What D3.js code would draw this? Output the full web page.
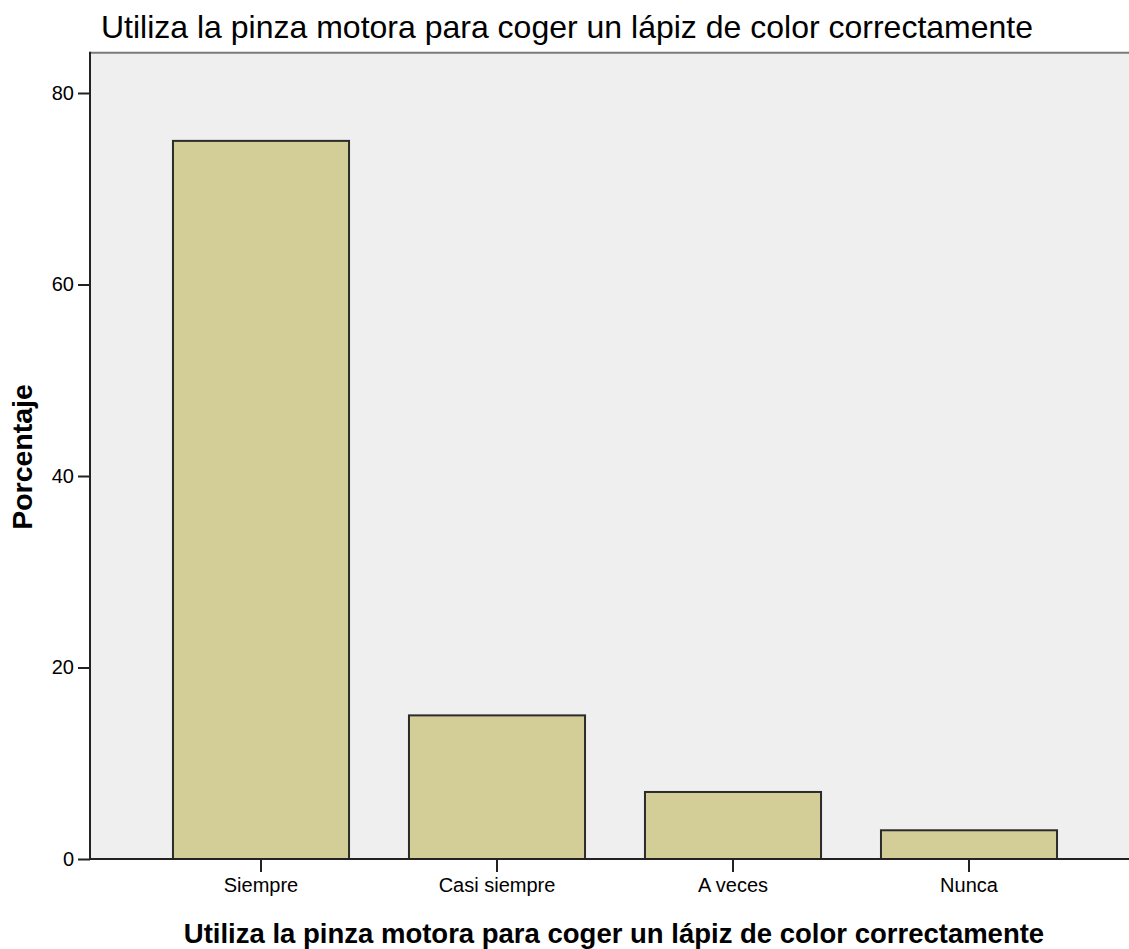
<!DOCTYPE html>
<html>
<head>
<meta charset="utf-8">
<script src="https://cdn.jsdelivr.net/npm/d3@7"></script>
<style>
  html, body { margin: 0; padding: 0; background: #ffffff; }
  svg { display: block; }
  text { font-family: "Liberation Sans", Arial, sans-serif; fill: #000; }
</style>
</head>
<body>
<svg id="chart" width="1129" height="949"></svg>
<script>
// ---- data ----
const categories = ["Siempre", "Casi siempre", "A veces", "Nunca"];
const percentages = [75, 15, 7, 3];
const yTickValues = [0, 20, 40, 60, 80];
const chartTitle = "Utiliza la pinza motora para coger un lápiz de color correctamente";
const xAxisTitle = "Utiliza la pinza motora para coger un lápiz de color correctamente";
const yAxisTitle = "Porcentaje";

// ---- layout ----
const svg = d3.select("#chart");
const plotLeft = 90, plotRight = 1140, plotBottom = 859;
const yDomainMax = 84.2;

const y = d3.scaleLinear().domain([0, 80]).range([plotBottom, 93]);
const plotTop = y(yDomainMax);

const x = d3.scaleBand()
  .domain(categories)
  .range([143, 1087])
  .paddingInner(0.254)
  .paddingOuter(0.127);

// plot background
svg.append("rect")
  .attr("x", plotLeft).attr("y", plotTop)
  .attr("width", plotRight - plotLeft).attr("height", plotBottom - plotTop)
  .attr("fill", "#efefef");

// top frame line
svg.append("line")
  .attr("x1", plotLeft).attr("x2", plotRight)
  .attr("y1", plotTop).attr("y2", plotTop)
  .attr("stroke", "#7a7a7a").attr("stroke-width", 2);

// bars
svg.append("g").selectAll("rect")
  .data(categories.map((c, i) => ({ c, v: percentages[i] })))
  .join("rect")
  .attr("x", d => x(d.c))
  .attr("y", d => y(d.v))
  .attr("width", x.bandwidth())
  .attr("height", d => y(0) - y(d.v))
  .attr("fill", "#d3ce97")
  .attr("stroke", "#2b2b2b")
  .attr("stroke-width", 2);

// y axis
const yAxis = d3.axisLeft(y).tickValues(yTickValues).tickSize(12).tickPadding(4).tickFormat(d3.format("d"));
const gy = svg.append("g").attr("transform", `translate(${plotLeft},0)`).call(yAxis);
gy.select(".domain").remove();
gy.selectAll(".tick line").attr("stroke", "#222").attr("stroke-width", 2);
gy.selectAll(".tick text").attr("font-size", 20).attr("fill", "#111")
  .attr("font-family", "'Liberation Sans', Arial, sans-serif");
svg.append("line")
  .attr("x1", plotLeft).attr("x2", plotLeft)
  .attr("y1", plotTop - 1).attr("y2", plotBottom + 1)
  .attr("stroke", "#222").attr("stroke-width", 2);

// x axis
const xAxis = d3.axisBottom(x).tickSize(13).tickPadding(6);
const gx = svg.append("g").attr("transform", `translate(0,${plotBottom})`).call(xAxis);
gx.select(".domain").remove();
gx.selectAll(".tick line").attr("stroke", "#222").attr("stroke-width", 2);
gx.selectAll(".tick text").attr("font-size", 20).attr("fill", "#111")
  .attr("font-family", "'Liberation Sans', Arial, sans-serif");
svg.append("line")
  .attr("x1", plotLeft - 1).attr("x2", plotRight)
  .attr("y1", plotBottom).attr("y2", plotBottom)
  .attr("stroke", "#222").attr("stroke-width", 2);

// titles
svg.append("text")
  .attr("x", 567).attr("y", 38)
  .attr("text-anchor", "middle")
  .attr("font-size", 32)
  .text(chartTitle);

svg.append("text")
  .attr("x", 614).attr("y", 943)
  .attr("text-anchor", "middle")
  .attr("font-size", 27.5)
  .attr("font-weight", "bold")
  .text(xAxisTitle);

svg.append("text")
  .attr("transform", "translate(32,457) rotate(-90)")
  .attr("text-anchor", "middle")
  .attr("font-size", 28.5)
  .attr("font-weight", "bold")
  .text(yAxisTitle);
</script>
</body>
</html>
